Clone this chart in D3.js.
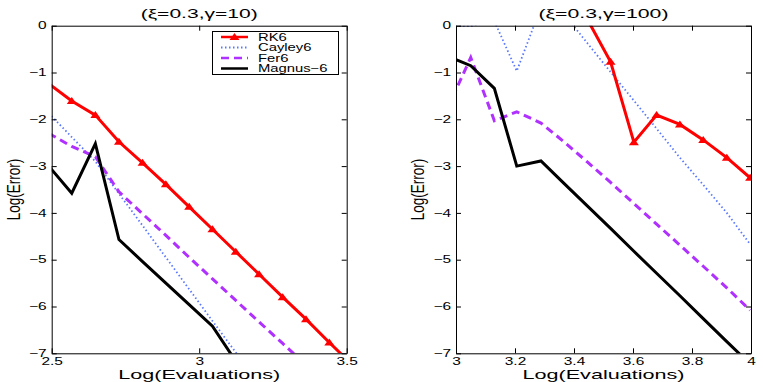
<!DOCTYPE html>
<html lang="en">
<head>
  <meta charset="UTF-8">
  <title>Log(Error) vs Log(Evaluations)</title>
  <script src="https://d3js.org/d3.v7.min.js"></script>
  <style>
    body { margin: 0; background: #fff; }
    svg text { font-family: "Liberation Sans", Arial, sans-serif; fill: #000; }
  </style>
</head>
<body>
  <svg width="763" height="382"></svg>

  <script>
    // series names
    const methods = ["RK6", "Cayley6", "Fer6", "Magnus-6"];

    // left panel (xi=0.3, gamma=10)
    const leftX = [2.49, 2.568, 2.648, 2.728, 2.808, 2.887, 2.966, 3.045, 3.124, 3.203, 3.283, 3.362, 3.441, 3.52];
    const leftRK6 = [-1.24, -1.61, -1.91, -2.48, -2.93, -3.39, -3.87, -4.35, -4.83, -5.31, -5.80, -6.27, -6.77, -7.25];
    const leftCayley6 = [-1.87, -2.38, -2.9, -3.59, -4.27, -4.95, -5.63, -6.31, -6.98, -7.66];
    const leftFer6 = [-2.3, -2.58, -2.8, -3.55, -4.02, -4.48, -4.95, -5.41, -5.87, -6.33, -6.79, -7.25];
    const leftMagnus6 = [-3.0, -3.58, -2.52, -4.57, -5.04, -5.5, -5.96, -6.42, -7.17];
    const leftXTicks = [2.5, 3, 3.5];

    // right panel (xi=0.3, gamma=100)
    const rightX = [2.97, 3.05, 3.13, 3.206, 3.288, 3.366, 3.445, 3.524, 3.603, 3.68, 3.759, 3.838, 3.918, 3.997];
    const rightRK6 = [null, null, null, null, null, null, 0.14, -0.77, -2.49, -1.91, -2.11, -2.44, -2.82, -3.25];
    const rightCayley6 = [-0.01, -0.01, 0.1, -0.97, 0.4, 0.25, -0.37, -0.99, -1.6, -2.2, -2.82, -3.4, -4.0, -4.67];
    const rightFer6 = [-1.78, -0.68, -2.03, -1.84, -2.08, -2.48, -2.91, -3.35, -3.80, -4.24, -4.69, -5.14, -5.60, -6.08];
    const rightMagnus6 = [-0.65, -0.855, -1.34, -3.0, -2.89, -3.37, -3.85, -4.33, -4.82, -5.29, -5.77, -6.26, -6.75, -7.23];
    const rightXTicks = [3, 3.2, 3.4, 3.6, 3.8, 4];

    const yTicks = [0, -1, -2, -3, -4, -5, -6, -7];

    const styles = {
      "RK6":      { color: "#ff0000", width: 3,   dash: null,      marker: true },
      "Cayley6":  { color: "#5a78ff", width: 1.8, dash: "1.5,2.5", marker: false },
      "Fer6":     { color: "#b030ff", width: 3,   dash: "8,5",     marker: false },
      "Magnus-6": { color: "#000000", width: 3,   dash: null,      marker: false }
    };

    const svg = d3.select("svg");
    const fmt = d3.format("~g");

    // widen text horizontally, the reference glyphs look stretched
    function stretch(sel, k) {
      sel.each(function() {
        const w = this.getComputedTextLength();
        d3.select(this).attr("textLength", w * k).attr("lengthAdjust", "spacingAndGlyphs");
      });
    }

    const tri = "M0,-4L5,3L-5,3Z";

    function panel(opts) {
      const x = d3.scaleLinear().domain(opts.xDomain).range([opts.left, opts.left + 295]);
      const y = d3.scaleLinear().domain([-7, 0]).range([353.3, 25.7]);
      const id = "clip" + opts.name;

      svg.append("clipPath").attr("id", id)
        .append("rect")
        .attr("x", x.range()[0]).attr("y", y(0))
        .attr("width", 295).attr("height", y(-7) - y(0));

      const series = [
        ["RK6", opts.rk6], ["Cayley6", opts.cayley], ["Fer6", opts.fer], ["Magnus-6", opts.magnus]
      ];

      const plot = svg.append("g").attr("clip-path", `url(#${id})`);

      // draw back to front so red sits on top like in the reference
      const order = ["Cayley6", "Fer6", "Magnus-6", "RK6"];
      order.forEach(name => {
        const vals = series.find(s => s[0] === name)[1];
        const pts = vals.map((v, i) => [opts.xs[i], v]);
        const st = styles[name];
        const line = d3.line()
          .defined(d => d[1] !== null)
          .x(d => x(d[0]))
          .y(d => y(d[1]));
        plot.append("path")
          .datum(pts)
          .attr("fill", "none")
          .attr("stroke", st.color)
          .attr("stroke-width", st.width)
          .attr("stroke-dasharray", st.dash)
          .attr("stroke-linejoin", "miter")
          .attr("d", line);
        if (st.marker) {
          plot.selectAll(null)
            .data(pts.filter(d => d[1] !== null && d[1] <= 0 && d[1] >= -7 && d[0] >= opts.xDomain[0] && d[0] <= opts.xDomain[1]))
            .enter()
            .append("path")
            .attr("d", tri)
            .attr("fill", st.color)
            .attr("transform", d => `translate(${x(d[0])},${y(d[1])})`);
        }
      });

      // axes: ticks point inward on all four sides
      const bottom = svg.append("g")
        .attr("transform", `translate(0,${y(-7)})`)
        .call(d3.axisBottom(x).tickValues(opts.xTicks).tickFormat(fmt)
          .tickSizeInner(-5).tickSizeOuter(0).tickPadding(4));
      const leftAx = svg.append("g")
        .attr("transform", `translate(${x.range()[0]},0)`)
        .call(d3.axisLeft(y).tickValues(yTicks).tickFormat(fmt)
          .tickSizeInner(-5).tickSizeOuter(0).tickPadding(5));
      svg.append("g")
        .attr("transform", `translate(0,${y(0)})`)
        .call(d3.axisTop(x).tickValues(opts.xTicks).tickFormat("")
          .tickSizeInner(-5).tickSizeOuter(0));
      svg.append("g")
        .attr("transform", `translate(${x.range()[1]},0)`)
        .call(d3.axisRight(y).tickValues(yTicks).tickFormat("")
          .tickSizeInner(-5).tickSizeOuter(0));

      svg.selectAll(".domain").attr("stroke", "#000").attr("stroke-width", 1);
      svg.selectAll(".tick line").attr("stroke", "#000");

      [bottom, leftAx].forEach(g => {
        g.selectAll("text")
          .attr("fill", "#000")
          .style("font-size", "10.3px")
          .style("font-family", "'Liberation Sans', Arial, sans-serif");
        stretch(g.selectAll("text"), 1.5);
      });

      // title
      svg.append("text")
        .attr("x", (x.range()[0] + x.range()[1]) / 2)
        .attr("y", 18)
        .attr("text-anchor", "middle")
        .style("font-size", "13.5px")
        .attr("textLength", opts.titleWidth)
        .attr("lengthAdjust", "spacingAndGlyphs")
        .text(opts.title);

      // x label
      svg.append("text")
        .attr("x", (x.range()[0] + x.range()[1]) / 2)
        .attr("y", 379)
        .attr("text-anchor", "middle")
        .style("font-size", "13.5px")
        .attr("textLength", 162)
        .attr("lengthAdjust", "spacingAndGlyphs")
        .text("Log(Evaluations)");

      // y label, glyphs widened across like the other texts
      svg.append("text")
        .attr("transform", `translate(${x.range()[0] - 32},${(y(0) + y(-7)) / 2}) rotate(-90) scale(1,1.4)`)
        .attr("text-anchor", "middle")
        .style("font-size", "13.5px")
        .text("Log(Error)");

      return { x, y };
    }

    panel({
      name: "L", left: 51.7, xDomain: [2.5, 3.5], xs: leftX, xTicks: leftXTicks,
      rk6: leftRK6, cayley: leftCayley6, fer: leftFer6, magnus: leftMagnus6,
      title: "(\u03BE=0.3,\u03B3=10)", titleWidth: 117
    });

    panel({
      name: "R", left: 456, xDomain: [3, 4], xs: rightX, xTicks: rightXTicks,
      rk6: rightRK6, cayley: rightCayley6, fer: rightFer6, magnus: rightMagnus6,
      title: "(\u03BE=0.3,\u03B3=100)", titleWidth: 130
    });

    // legend (left panel only)
    const legend = svg.append("g");
    legend.append("rect")
      .attr("x", 212.5).attr("y", 31.5)
      .attr("width", 126).attr("height", 43)
      .attr("fill", "#fff").attr("stroke", "#000").attr("stroke-width", 1);

    const rowY = d3.scalePoint().domain(methods).range([37, 68.5]);
    methods.forEach(name => {
      const st = styles[name];
      const yy = rowY(name);
      legend.append("line")
        .attr("x1", 221).attr("x2", 248)
        .attr("y1", yy).attr("y2", yy)
        .attr("stroke", st.color)
        .attr("stroke-width", st.width === 3 ? 2.5 : st.width)
        .attr("stroke-dasharray", st.dash);
      if (st.marker) {
        legend.append("path")
          .attr("d", tri)
          .attr("fill", st.color)
          .attr("transform", `translate(234.5,${yy})`);
      }
      legend.append("text")
        .attr("x", 258)
        .attr("y", yy)
        .attr("dy", "0.36em")
        .style("font-size", "10px")
        .text(name.replace("-", "\u2212"));
    });
    stretch(legend.selectAll("text"), 1.48);
  </script>
</body>
</html>
